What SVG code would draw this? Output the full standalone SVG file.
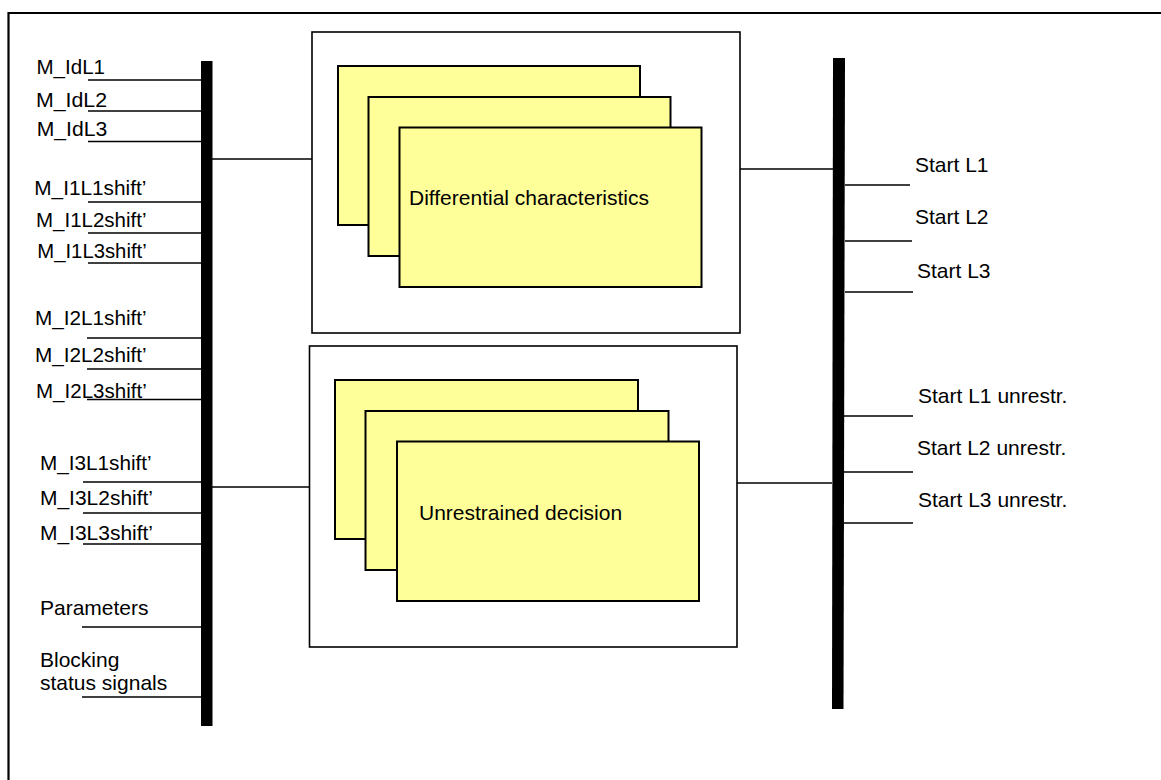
<svg xmlns="http://www.w3.org/2000/svg" width="1161" height="780" viewBox="0 0 1161 780">
<style>
.t{font-family:"Liberation Sans",Arial,sans-serif;font-size:21px;fill:#000}
.m{font-family:"Liberation Sans",Arial,sans-serif;font-size:20px;fill:#000}
.ln{stroke:#000;stroke-width:1.6;fill:none}
.bus{fill:#000}
.outer{fill:#fff;stroke:#000;stroke-width:1.6}
.card{fill:#ffff99;stroke:#000;stroke-width:2}
</style>
<rect width="1161" height="780" fill="#fff"/>
<g id="frame">
<line x1="8.5" y1="13" x2="1161" y2="13" stroke="#000" stroke-width="2.2"/>
<line x1="8.5" y1="12" x2="8.5" y2="780" stroke="#000" stroke-width="2.2"/>
</g>
<g id="left-bus"><rect class="bus" x="201" y="61" width="11.5" height="665"/></g>
<g id="right-bus"><polygon class="bus" points="833,58 845,58 843.5,709 832,709"/></g>
<g id="connectors">
<line class="ln" x1="88" y1="80" x2="201" y2="80"/>
<line class="ln" x1="88" y1="111" x2="201" y2="111"/>
<line class="ln" x1="88" y1="141.5" x2="201" y2="141.5"/>
<line class="ln" x1="88" y1="202" x2="201" y2="202"/>
<line class="ln" x1="88" y1="233" x2="201" y2="233"/>
<line class="ln" x1="88" y1="263" x2="201" y2="263"/>
<line class="ln" x1="87" y1="338" x2="201" y2="338"/>
<line class="ln" x1="87" y1="369" x2="201" y2="369"/>
<line class="ln" x1="87" y1="399.5" x2="201" y2="399.5"/>
<line class="ln" x1="83" y1="482" x2="201" y2="482"/>
<line class="ln" x1="83" y1="513" x2="201" y2="513"/>
<line class="ln" x1="83" y1="544" x2="201" y2="544"/>
<line class="ln" x1="82" y1="627" x2="201" y2="627"/>
<line class="ln" x1="82" y1="697" x2="201" y2="697"/>
<line class="ln" x1="212" y1="159" x2="312" y2="159"/>
<line class="ln" x1="212" y1="487" x2="309" y2="487"/>
<line class="ln" x1="740" y1="169" x2="833" y2="169"/>
<line class="ln" x1="737" y1="483" x2="832" y2="483"/>
<line class="ln" x1="845" y1="185" x2="910" y2="185"/>
<line class="ln" x1="845" y1="241" x2="912" y2="241"/>
<line class="ln" x1="845" y1="292" x2="913" y2="292"/>
<line class="ln" x1="844" y1="416" x2="913" y2="416"/>
<line class="ln" x1="844" y1="472" x2="913" y2="472"/>
<line class="ln" x1="844" y1="523" x2="913" y2="523"/>
</g>
<g id="input-labels">
<text class="m" x="36.5" y="74.3" textLength="68.5" lengthAdjust="spacingAndGlyphs">M_IdL1</text>
<text class="m" x="36" y="106.5" textLength="71" lengthAdjust="spacingAndGlyphs">M_IdL2</text>
<text class="m" x="36.7" y="135.5" textLength="70.5" lengthAdjust="spacingAndGlyphs">M_IdL3</text>
<text class="m" x="34.3" y="195" textLength="112" lengthAdjust="spacingAndGlyphs">M_I1L1shift’</text>
<text class="m" x="36" y="227" textLength="110.5" lengthAdjust="spacingAndGlyphs">M_I1L2shift’</text>
<text class="m" x="37.3" y="257.5" textLength="109.4" lengthAdjust="spacingAndGlyphs">M_I1L3shift’</text>
<text class="m" x="35" y="325" textLength="111.7" lengthAdjust="spacingAndGlyphs">M_I2L1shift’</text>
<text class="m" x="35" y="362" textLength="111.7" lengthAdjust="spacingAndGlyphs">M_I2L2shift’</text>
<text class="m" x="36" y="397.5" textLength="110.7" lengthAdjust="spacingAndGlyphs">M_I2L3shift’</text>
<text class="m" x="40" y="470" textLength="111.7" lengthAdjust="spacingAndGlyphs">M_I3L1shift’</text>
<text class="m" x="40" y="505" textLength="113" lengthAdjust="spacingAndGlyphs">M_I3L2shift’</text>
<text class="m" x="40" y="539.5" textLength="113" lengthAdjust="spacingAndGlyphs">M_I3L3shift’</text>
<text class="t" x="40" y="615">Parameters</text>
<text class="t" x="40" y="667">Blocking</text>
<text class="t" x="40" y="690">status signals</text>
</g>
<g id="differential-characteristics">
<rect class="outer" x="312" y="32" width="428" height="301"/>
<rect class="card" x="338" y="66" width="302" height="159"/>
<rect class="card" x="368.5" y="97" width="302" height="159"/>
<rect class="card" x="399.5" y="127.5" width="302" height="159.5"/>
<text class="t" x="409" y="205">Differential characteristics</text>
</g>
<g id="unrestrained-decision">
<rect class="outer" x="309.5" y="346" width="427.5" height="301"/>
<rect class="card" x="335" y="380" width="303" height="159"/>
<rect class="card" x="365.5" y="411" width="303" height="159"/>
<rect class="card" x="397" y="441.5" width="302" height="159.5"/>
<text class="t" x="419" y="520">Unrestrained decision</text>
</g>
<g id="output-labels">
<text class="t" x="915" y="172">Start L1</text>
<text class="t" x="915" y="224">Start L2</text>
<text class="t" x="917" y="278">Start L3</text>
<text class="t" x="918" y="403">Start L1 unrestr.</text>
<text class="t" x="917" y="455">Start L2 unrestr.</text>
<text class="t" x="918" y="507">Start L3 unrestr.</text>
</g>
</svg>
